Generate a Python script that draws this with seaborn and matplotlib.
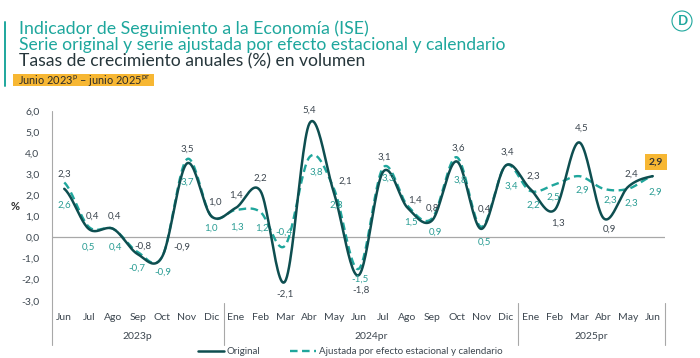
import numpy as np
import pandas as pd
import matplotlib
matplotlib.use("Agg")
import matplotlib.pyplot as plt
from matplotlib.lines import Line2D
from matplotlib.patches import Rectangle, Circle
import matplotlib.transforms as mtransforms
import seaborn as sns

# ---------------- data ----------------
months = ["Jun", "Jul", "Ago", "Sep", "Oct", "Nov", "Dic",
          "Ene", "Feb", "Mar", "Abr", "May", "Jun", "Jul", "Ago", "Sep", "Oct", "Nov", "Dic",
          "Ene", "Feb", "Mar", "Abr", "May", "Jun"]
years = ["2023p", "2024pr", "2025pr"]
year_spans = [(0, 6), (7, 18), (19, 24)]
original = [2.3, 0.4, 0.4, -0.8, -0.9, 3.5, 1.0,
            1.4, 2.2, -2.1, 5.4, 2.1, -1.8, 3.1, 1.4, 0.8, 3.6, 0.4, 3.4,
            2.3, 1.3, 4.5, 0.9, 2.4, 2.9]
ajustada = [2.6, 0.5, 0.4, -0.7, -0.9, 3.7, 1.0,
            1.3, 1.2, -0.4, 3.8, 2.3, -1.5, 3.3, 1.5, 0.9, 3.8, 0.5, 3.4,
            2.2, 2.5, 2.9, 2.3, 2.3, 2.9]
yticks = [-3, -2, -1, 0, 1, 2, 3, 4, 5, 6]

# label offsets in pixels (dx, dy with dy positive downward)
orig_dx = [0, 4, 1, 5, 20, 0, 4, 0, 0, 0, 0, 11, 3, 1, 8, 0, 2, 3, 2, 3, 3, 2, 6, 3, 3]
orig_dy = [-15, -13, -13, -8, -9, -14, -14, -13, -13, 12, -13, -12, 15, -15, -8, -12, -13, -20, -13, -13, 13, -14, 11, -13, -14]
adj_dx = [0, 0, 2, -1, 1, 0, 0, 1, 2, -1, 7, 2, 2, 5, 3, 3, 4, 3, 6, 3, -1, 3, 7, 3, 3]
adj_dy = [23, 20, 18, 16, 16, 23, 12, 17, 16, -14, 15, 16, 10, 10, 16, 14, 23, 15, 21, 14, 13, 14, 11, 14, 16]

C_ORIG = "#0e4e50"
C_ADJ = "#1fa69c"
C_TXT = "#3d4750"
C_TEAL_TXT = "#2a9d94"
C_TITLE = "#1ea79d"
C_YEL = "#f7b733"
C_GRID = "#a8a8a8"

sns.set_theme(style="white")
plt.rcParams["font.family"] = ["Lato", "DejaVu Sans"]
plt.rcParams["mathtext.fontset"] = "custom"
plt.rcParams["mathtext.rm"] = "Lato"
plt.rcParams["mathtext.it"] = "Lato"

W, H = 700, 358
fig = plt.figure(figsize=(W / 100, H / 100), dpi=100)


def P(x, y):
    return (x / W, 1 - y / H)


ax_left, ax_right, ax_top, ax_bot = 52, 665, 110.7, 300.7
ax = fig.add_axes([ax_left / W, 1 - ax_bot / H, (ax_right - ax_left) / W, (ax_bot - ax_top) / H])


def smooth(vals, n=24):
    v = np.asarray(vals, float)
    p = np.concatenate([[v[0]], v, [v[-1]]])
    xs, ys = [], []
    t = np.linspace(0, 1, n, endpoint=False)
    for i in range(len(v) - 1):
        p0, p1, p2, p3 = p[i], p[i + 1], p[i + 2], p[i + 3]
        c1 = p1 + (p2 - p0) / 6
        c2 = p2 - (p3 - p1) / 6
        b = (1 - t) ** 3 * p1 + 3 * (1 - t) ** 2 * t * c1 + 3 * (1 - t) * t ** 2 * c2 + t ** 3 * p2
        xs.append(i + t)
        ys.append(b)
    xs.append([len(v) - 1])
    ys.append([v[-1]])
    return np.concatenate(xs), np.concatenate(ys)


xo, yo = smooth(original)
xa, ya = smooth(ajustada)
df_o = pd.DataFrame({"x": xo, "y": yo})
df_a = pd.DataFrame({"x": xa, "y": ya})

ax.axhline(0, color=C_GRID, lw=0.9, zorder=1)
sns.lineplot(data=df_a, x="x", y="y", ax=ax, color=C_ADJ, lw=1.7, sort=False,
             estimator=None, linestyle=(0, (3.2, 1.9)), label="Ajustada por efecto estacional y calendario", zorder=3)
sns.lineplot(data=df_o, x="x", y="y", ax=ax, color=C_ORIG, lw=1.8, sort=False,
             estimator=None, label="Original", zorder=4)

ax.set_xlim(-0.5, 24.5)
ax.set_ylim(-3, 6)
ax.set_yticks(yticks)
ax.set_yticklabels([f"{t:.1f}".replace(".", ",") for t in yticks], fontsize=7.5, color=C_TXT)
ax.set_xticks(range(len(months)))
ax.set_xticklabels(months, fontsize=7.5, color=C_TXT)
ax.tick_params(axis="y", length=0, pad=9)
ax.tick_params(axis="x", length=0, pad=9)
ax.set_xlabel("")
ax.set_ylabel("")
for s in ax.spines.values():
    s.set_visible(False)
ax.grid(False)
ax.patch.set_alpha(0)

# axis lines / separators
trans = mtransforms.blended_transform_factory(ax.transData, ax.transAxes)
ax.add_line(Line2D([-0.5, -0.5], [1.0, -0.235], transform=trans, color=C_GRID, lw=0.8, clip_on=False))
for xs_ in [6.5, 18.5, 24.5]:
    ax.add_line(Line2D([xs_, xs_], [-0.01, -0.235], transform=trans, color=C_GRID, lw=0.8, clip_on=False))
for yr, (a, b) in zip(years, year_spans):
    ax.text((a + b) / 2, -0.19, yr, transform=trans, ha="center", va="center", fontsize=7.5, color=C_TXT)

# data labels
fmt = lambda v: f"{v:.1f}".replace(".", ",")
for i, v in enumerate(original):
    if i == len(original) - 1:
        ax.annotate(fmt(v), (i, v), xytext=(orig_dx[i], -orig_dy[i]), textcoords="offset pixels",
                    ha="center", va="center", fontsize=7.5, fontweight="bold", color="#333333",
                    bbox=dict(boxstyle="square,pad=0.35", fc=C_YEL, ec="none"), zorder=6)
    else:
        ax.annotate(fmt(v), (i, v), xytext=(orig_dx[i], -orig_dy[i]), textcoords="offset pixels",
                    ha="center", va="center", fontsize=7, color=C_TXT, zorder=5)
for i, v in enumerate(ajustada):
    ax.annotate(fmt(v), (i, v), xytext=(adj_dx[i], -adj_dy[i]), textcoords="offset pixels",
                ha="center", va="center", fontsize=7, color=C_TEAL_TXT, zorder=5)

# legend
h, l = ax.get_legend_handles_labels()
ax.get_legend().remove()
order = [l.index("Original"), l.index("Ajustada por efecto estacional y calendario")]
fig.legend([h[k] for k in order], [l[k] for k in order], loc="center", bbox_to_anchor=(0.5, 1 - 352 / H),
           ncol=2, frameon=False, fontsize=7, handlelength=2.7, handletextpad=0.3, columnspacing=3.0,
           labelcolor=C_TXT, borderaxespad=0, borderpad=0)

# "%" label
fig.text(*P(15, 207), "%", fontsize=8, fontweight="bold", color="#333333", ha="center", va="center")

# titles
t1 = fig.text(*P(19, 34), "Indicador de Seguimiento a la Economía (ISE)", fontsize=12, color=C_TITLE, va="baseline")
t2 = fig.text(*P(19, 50), "Serie original y serie ajustada por efecto estacional y calendario", fontsize=12, color=C_TITLE, va="baseline")
t3 = fig.text(*P(19, 66.5), "Tasas de crecimiento anuales (%) en volumen", fontsize=12, color="#26363b", va="baseline")
fig.patches.append(Rectangle(P(13, 86), 141 / W, 12 / H, transform=fig.transFigure, fc=C_YEL, ec="none"))
t4 = fig.text(*P(18, 83.5), r"Junio 2023$^{\mathrm{p}}$ – junio 2025$^{\mathrm{pr}}$", fontsize=8, color="#2a2a2a", va="baseline")
fig.add_artist(Line2D([5 / W, 5 / W], [1 - 22 / H, 1 - 86 / H], color=C_TITLE, lw=1.4))

# logo
fig.patches.append(Circle((682 / 100, (H - 21) / 100), 0.10, transform=fig.dpi_scale_trans,
                          fc="white", ec=C_TITLE, lw=0.8))
fig.text(*P(682.5, 21), "D", fontsize=9.5, fontweight="bold", color=C_TITLE, ha="center", va="center")

fig.canvas.draw()
r = fig.canvas.get_renderer()
for t, wpx in [(t1, 348), (t2, 485), (t3, 345), (t4, 132)]:
    bb = t.get_window_extent(r)
    t.set_fontsize(t.get_fontsize() * wpx / bb.width)

fig.savefig("out.png", dpi=100)
